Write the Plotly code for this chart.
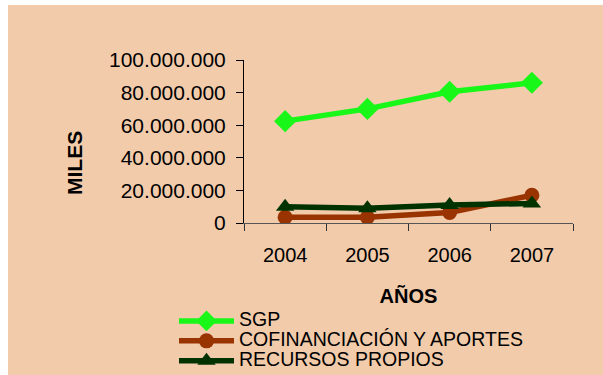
import plotly.graph_objects as go

years = ["2004", "2005", "2006", "2007"]
sgp = [62500000, 70000000, 80500000, 86000000]
cofinanciacion = [3500000, 3500000, 6500000, 17000000]
recursos_propios = [10000000, 9000000, 11000000, 12000000]

series_names = ["SGP", "COFINANCIACIÓN Y APORTES", "RECURSOS PROPIOS"]
y_ticks = [0, 20000000, 40000000, 60000000, 80000000, 100000000]

W, H = 603, 375
L, R, T, B = 244, 30, 60, 152
pw, ph = W - L - R, H - T - B

def px_x(x):
    return (x - L) / pw

def px_y(y):
    return (H - B - y) / ph

def legend_label(s):
    return '<span style="font-size:19.5px">' + s + '</span>'

fig = go.Figure()
fig.add_trace(go.Scatter(x=years, y=sgp, name=legend_label(series_names[0]), mode="lines+markers",
                         line=dict(color="#19f719", width=5.5),
                         marker=dict(symbol="diamond", size=17, color="#19f719")))
fig.add_trace(go.Scatter(x=years, y=cofinanciacion, name=legend_label(series_names[1]), mode="lines+markers",
                         line=dict(color="#993300", width=5.5),
                         marker=dict(symbol="circle", size=15, color="#993300")))
fig.add_trace(go.Scatter(x=years, y=recursos_propios, name=legend_label(series_names[2]), mode="lines+markers",
                         line=dict(color="#003300", width=5.5),
                         marker=dict(symbol="triangle-up", size=16, color="#003300")))

fig.update_layout(
    width=W, height=H,
    margin=dict(l=L, r=R, t=T, b=B, autoexpand=False),
    paper_bgcolor="white",
    plot_bgcolor="rgba(0,0,0,0)",
    separators=",.",
    font=dict(family="Liberation Sans, Arial, sans-serif", color="black"),
    shapes=[dict(type="rect", xref="paper", yref="paper", layer="below",
                 x0=px_x(8), x1=px_x(604), y0=px_y(376), y1=px_y(5),
                 fillcolor="#f2cbab", line=dict(width=0))],
    xaxis=dict(type="category", range=[-0.5, 3.5], showgrid=False, zeroline=False,
               showline=True, linecolor="#555555", linewidth=1,
               ticks="outside", tickson="boundaries", ticklen=7, tickcolor="#333333",
               tickfont=dict(size=20), ticklabelstandoff=14,
               title=dict(text="<b>AÑOS</b>", font=dict(size=20), standoff=23)),
    yaxis=dict(range=[0, 100000000], tickvals=y_ticks, tickformat=",d",
               showgrid=False, zeroline=False, showline=True, linecolor="black", linewidth=1,
               ticks="outside", ticklen=7, tickcolor="black",
               tickfont=dict(size=21), ticklabelstandoff=6),
    annotations=[dict(text="<b>MILES</b>", xref="paper", yref="paper",
                      x=px_x(74.5), y=px_y(163.5), xanchor="center", yanchor="middle",
                      textangle=-90, showarrow=False, font=dict(size=21))],
    showlegend=True,
    legend=dict(x=px_x(174), y=px_y(306), xanchor="left", yanchor="top",
                bgcolor="rgba(0,0,0,0)", font=dict(size=13), tracegroupgap=0,
                itemwidth=55),
)

fig.write_html("out.html")
